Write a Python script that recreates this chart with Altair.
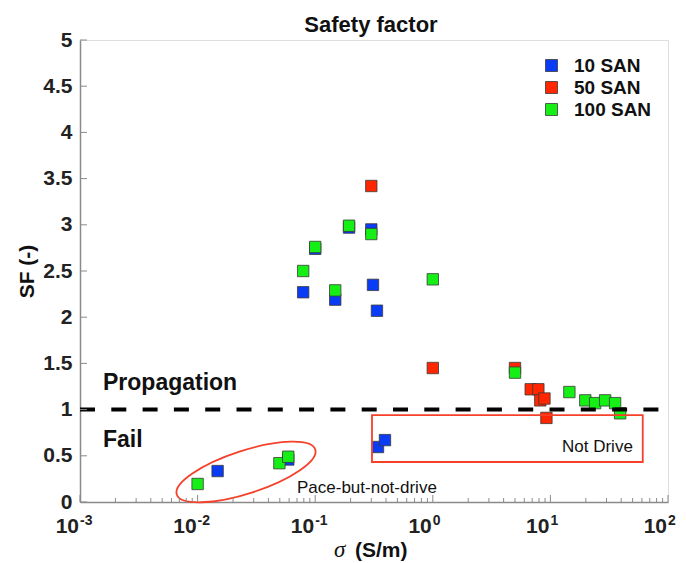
import altair as alt
import pandas as pd

# ---------------- data ----------------
san10_sigma = [0.079, 0.1, 0.148, 0.194, 0.30, 0.31, 0.335, 0.0148, 0.059, 0.342, 0.392]
san10_sf = [2.27, 2.74, 2.19, 2.97, 2.95, 2.35, 2.07, 0.335, 0.46, 0.595, 0.67]

san50_sigma = [0.30, 1.0, 5.0, 6.8, 7.9, 8.2, 8.9, 9.25]
san50_sf = [3.42, 1.45, 1.45, 1.22, 1.22, 1.10, 1.12, 0.91]

san100_sigma = [0.01, 0.0496, 0.059, 0.079, 0.1, 0.148, 0.194, 0.30, 1.0, 5.0,
                14.5, 19.8, 24.0, 29.2, 35.5, 39.2]
san100_sf = [0.195, 0.42, 0.49, 2.50, 2.76, 2.29, 2.99, 2.90, 2.41, 1.40,
             1.19, 1.10, 1.07, 1.10, 1.07, 0.96]

series_names = ["10 SAN", "50 SAN", "100 SAN"]
series_colors = ["#0a3cf5", "#ff2600", "#16ef16"]

threshold = [1.0]

# annotation box ("Not Drive") in data units
box_x = [0.304]
box_x2 = [61.0]
box_y = [0.94]
box_y2 = [0.433]

# annotation ellipse centre ("Pace-but-not-drive") in data units
ell_x = [0.0258]
ell_y = [0.325]

x_tick_vals = [0.001, 0.01, 0.1, 1, 10, 100]
x_tick_exp = ["-3", "-2", "-1", "0", "1", "2"]
x_minor_vals = [m * 10.0 ** k for k in range(-3, 2) for m in range(2, 10)]
y_tick_vals = [0, 0.5, 1, 1.5, 2, 2.5, 3, 3.5, 4, 4.5, 5]

# ---------------- build tables ----------------
rows = []
for name, xs, ys in [("10 SAN", san10_sigma, san10_sf),
                     ("50 SAN", san50_sigma, san50_sf),
                     ("100 SAN", san100_sigma, san100_sf)]:
    for i, (xv, yv) in enumerate(zip(xs, ys)):
        rows.append({"sigma": xv, "SF": yv, "series": name,
                     "order": series_names.index(name)})
df = pd.DataFrame(rows)

W, H = 588, 462
FONT = "Liberation Sans"
GRAY = "#8a8a8a"

xs = alt.Scale(type="log", domain=[0.001, 100])
ys = alt.Scale(domain=[0, 5])

points = alt.Chart(df).mark_square(size=130, opacity=1, stroke="#3a3a3a",
                                   strokeWidth=0.8).encode(
    x=alt.X("sigma:Q", scale=xs,
            axis=alt.Axis(labels=False, ticks=False, grid=False, title=None,
                          domainColor=GRAY, domainWidth=1.5)),
    y=alt.Y("SF:Q", scale=ys,
            axis=alt.Axis(values=y_tick_vals, format="~g", ticks=False, grid=False,
                          title="SF (-)", titleFontSize=21, titleFont=FONT,
                          titleFontWeight="bold", titleColor="#111",
                          titlePadding=5,
                          labelFontSize=21, labelFont=FONT, labelFontWeight="bold",
                          labelColor="#222", labelPadding=8,
                          domainColor=GRAY, domainWidth=1.5)),
    fill=alt.Fill("series:N",
                  scale=alt.Scale(domain=series_names, range=series_colors),
                  legend=alt.Legend(title=None, orient="none", legendX=462, legendY=16,
                                    symbolType="square", symbolSize=144,
                                    symbolStrokeColor="#3a3a3a", symbolStrokeWidth=0.8,
                                    symbolOpacity=1,
                                    labelFontSize=19, labelFont=FONT,
                                    labelFontWeight="bold", labelColor="#111",
                                    labelOffset=13, rowPadding=2, padding=0)),
    order=alt.Order("order:Q"),
)

thr = alt.Chart(pd.DataFrame({"t": threshold})).mark_rule(
    color="black", strokeWidth=4, strokeDash=[15, 16.3], strokeCap="butt").encode(
    y=alt.Y("t:Q", scale=ys), x=alt.value(0), x2=alt.value(W))

box = alt.Chart(pd.DataFrame({"x": box_x, "x2": box_x2, "y": box_y, "y2": box_y2})).mark_rect(
    filled=False, stroke="#f5402a", strokeWidth=1.8).encode(
    x=alt.X("x:Q", scale=xs), x2="x2:Q", y=alt.Y("y:Q", scale=ys), y2="y2:Q")

r = 0.294
k = 0.5523 * r
ellipse_path = (f"M 1 0 C 1 {k:.4f} 0.5523 {r} 0 {r} "
                f"C -0.5523 {r} -1 {k:.4f} -1 0 "
                f"C -1 {-k:.4f} -0.5523 {-r} 0 {-r} "
                f"C 0.5523 {-r} 1 {-k:.4f} 1 0 Z")
ell = alt.Chart(pd.DataFrame({"x": ell_x, "y": ell_y})).mark_point(
    shape=ellipse_path, size=21200, angle=342, filled=False,
    stroke="#f5402a", strokeWidth=1.8, opacity=1).encode(
    x=alt.X("x:Q", scale=xs), y=alt.Y("y:Q", scale=ys))

# inward ticks
xmaj = alt.Chart(pd.DataFrame({"v": x_tick_vals})).mark_rule(color=GRAY, strokeWidth=1).encode(
    x=alt.X("v:Q", scale=xs), y=alt.value(H), y2=alt.value(H - 7))
xmin = alt.Chart(pd.DataFrame({"v": x_minor_vals})).mark_rule(color=GRAY, strokeWidth=1).encode(
    x=alt.X("v:Q", scale=xs), y=alt.value(H), y2=alt.value(H - 4))
ytk = alt.Chart(pd.DataFrame({"v": y_tick_vals})).mark_rule(color=GRAY, strokeWidth=1).encode(
    y=alt.Y("v:Q", scale=ys), x=alt.value(0), x2=alt.value(7))

# x tick labels as 10 with superscript exponent
tick_df = pd.DataFrame({"v": x_tick_vals, "base": ["10"] * len(x_tick_vals), "exp": x_tick_exp})
xlab_base = alt.Chart(tick_df).mark_text(
    font=FONT, fontSize=21, fontWeight="bold", color="#222", align="right",
    baseline="alphabetic", dx=-1).encode(
    x=alt.X("v:Q", scale=xs), y=alt.value(H + 31), text="base:N")
xlab_exp = alt.Chart(tick_df).mark_text(
    font=FONT, fontSize=14, fontWeight="bold", color="#222", align="left",
    baseline="alphabetic", dx=0).encode(
    x=alt.X("v:Q", scale=xs), y=alt.value(H + 23), text="exp:N")

# x axis title: italic sigma + (S/m)
sig = alt.Chart(pd.DataFrame({"t": ["σ"]})).mark_text(
    font="Liberation Serif", fontSize=23, fontStyle="italic", color="#111",
    align="left", baseline="alphabetic").encode(
    x=alt.value(254), y=alt.value(H + 55), text="t:N")
unit = alt.Chart(pd.DataFrame({"t": ["(S/m)"]})).mark_text(
    font=FONT, fontSize=21, fontWeight="bold", color="#111",
    align="left", baseline="alphabetic").encode(
    x=alt.value(275), y=alt.value(H + 55), text="t:N")

def label(txt, x, y, size, weight, align="left"):
    return alt.Chart(pd.DataFrame({"t": [txt]})).mark_text(
        font=FONT, fontSize=size, fontWeight=weight, color="#111",
        align=align, baseline="alphabetic").encode(
        x=alt.value(x), y=alt.value(y), text="t:N")

title = label("Safety factor", W / 2 - 3, -8, 22, "bold", align="center")
prop = label("Propagation", 23, 350, 23, "bold")
fail = label("Fail", 23, 407, 23, "bold")
pace = label("Pace-but-not-drive", 217, 453, 17, "normal")
notd = label("Not Drive", 482, 412, 17, "normal")

chart = alt.layer(
    points, thr, box, ell, xmaj, xmin, ytk, xlab_base, xlab_exp, sig, unit,
    title, prop, fail, pace, notd
).properties(
    width=W, height=H,
    autosize=alt.AutoSizeParams(type="none"),
    padding={"left": 80, "top": 40, "right": 18, "bottom": 61},
).configure_view(stroke=None).configure(background="white")

chart.save("out.html", embed_options={"renderer": "svg", "actions": False})
